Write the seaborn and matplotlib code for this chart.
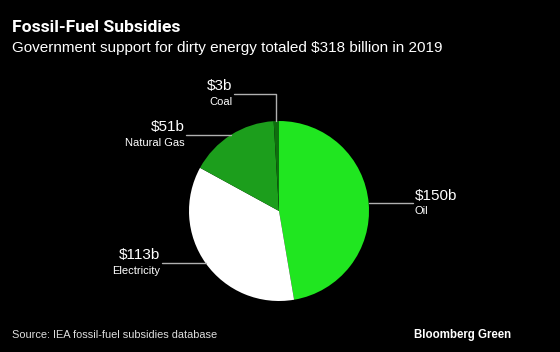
import numpy as np
import seaborn as sns
import matplotlib.pyplot as plt

# ====== Data ======
categories = ["Oil", "Electricity", "Natural Gas", "Coal"]
values = [150, 113, 51, 3]
value_labels = ["$150b", "$113b", "$51b", "$3b"]
colors = ["#20e620", "#ffffff", "#1c9e1c", "#0e6e0e"]

# ====== Style ======
sns.set_style("dark", {"axes.facecolor": "black", "figure.facecolor": "black"})
plt.rcParams["font.family"] = ["Liberation Sans", "DejaVu Sans"]

fig = plt.figure(figsize=(5.6, 3.52), dpi=100)
fig.patch.set_facecolor("black")

ax = fig.add_axes([189 / 560, 51 / 352, 180 / 560, 180 / 352])
ax.set_facecolor("black")

wedges, _ = ax.pie(values, colors=colors, startangle=90, counterclock=False,
                   wedgeprops={"linewidth": 0})
ax.set_xlim(-1, 1)
ax.set_ylim(-1, 1)
ax.set_aspect("equal")
ax.axis("off")

# ====== Leader lines + labels ======
line_col = "#b0b0b0"
# x where the horizontal leader ends (in pie radius units)
label_x = {"Oil": 1.49, "Electricity": -1.30, "Natural Gas": -1.03, "Coal": -0.50}

for w, cat, lab in zip(wedges, categories, value_labels):
    mid = np.deg2rad((w.theta1 + w.theta2) / 2)
    ex, ey = np.cos(mid), np.sin(mid)
    lx = label_x[cat]
    if cat == "Coal":
        ly = 1.30
        ax.plot([ex, ex, lx], [1.0, ly, ly], color=line_col, lw=1, clip_on=False)
    else:
        ly = ey
        ax.plot([ex, lx], [ly, ly], color=line_col, lw=1, clip_on=False)
    ha = "left" if lx > 0 else "right"
    tx = lx + (0.02 if lx > 0 else -0.02)
    ax.text(tx, ly + 0.01, lab, color="white", fontsize=11, ha=ha, va="bottom")
    ax.text(tx, ly - 0.03, cat, color="white", fontsize=8, ha=ha, va="top")

# ====== Titles ======
fig.text(12 / 560, 1 - 32 / 352, "Fossil-Fuel Subsidies", color="white",
         fontsize=12.6, fontweight="bold", family=["Roboto", "DejaVu Sans"],
         ha="left", va="baseline")
fig.text(12 / 560, 1 - 52 / 352,
         "Government support for dirty energy totaled $318 billion in 2019",
         color="white", fontsize=11, ha="left", va="baseline")
fig.text(12 / 560, 1 - 338 / 352, "Source: IEA fossil-fuel subsidies database",
         color="#dddddd", fontsize=7.9, ha="left", va="baseline")
fig.text(511 / 560, 1 - 338 / 352, "Bloomberg Green", color="white",
         fontsize=8.3, fontweight="bold", ha="right", va="baseline")

fig.savefig("out.png", dpi=100, facecolor="black")
plt.close()
